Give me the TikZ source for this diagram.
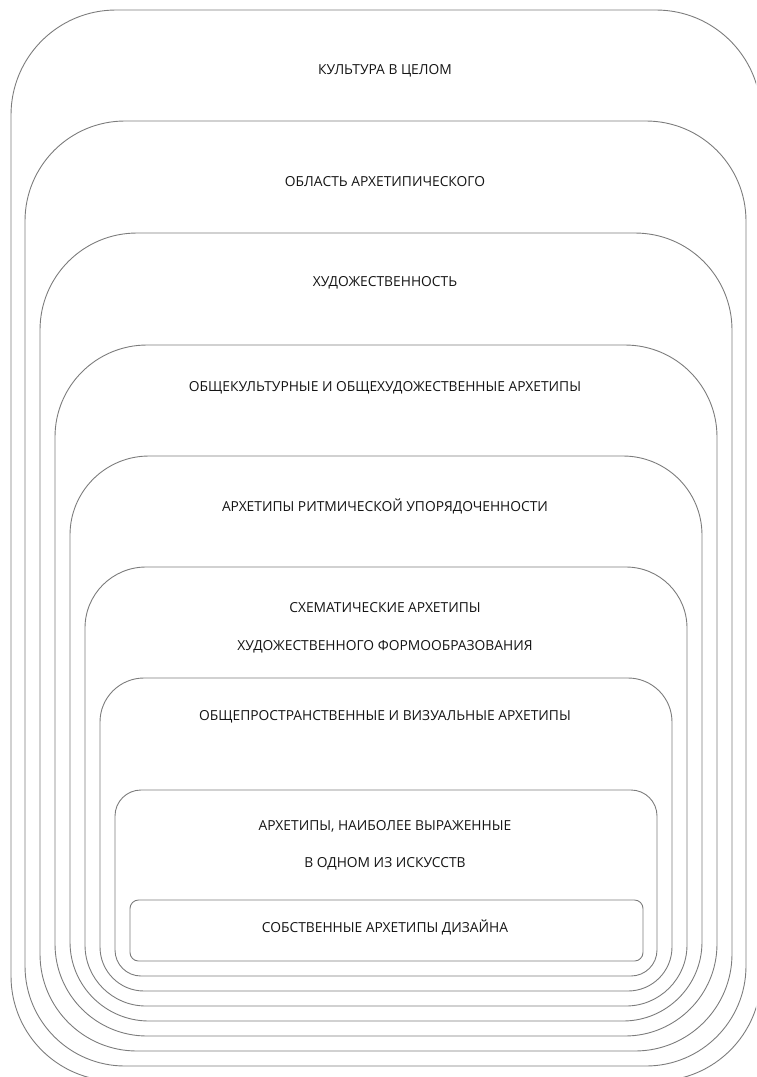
\documentclass[tikz,border=0pt]{standalone}
\usepackage{fontspec}
\setmainfont{Open Sans}
\usepackage{xcolor}
\usepackage{tikz}
\definecolor{frameGray}{HTML}{7C7C7C}
\definecolor{labelInk}{HTML}{141414}

\begin{document}
\begin{tikzpicture}[x=1pt,y=-1pt,
        frame/.style={draw=frameGray, line width=0.9pt},
        lbl/.style={font=\fontsize{13.8}{15}\selectfont, text=labelInk, inner sep=0pt}]
    \useasboundingbox (0,0) rectangle (756,1077);
    \clip (0,0) rectangle (756,1077);
    % nested frames: left/top/right/bottom/radius
    \foreach \l/\t/\r/\b/\rad in {11/10/761/1081/105, 25/121/746/1066/100,
            40/233/732/1051/97, 55/345/717/1036/92, 70/456/702/1021/79,
            85/567/687/1006/61, 100/678/672/991/44, 115/790/657/976/26,
            130/900/643/961/8.5}
        \draw[frame, rounded corners=\rad pt] (\l,\t) rectangle (\r,\b);
    \node[lbl] (culture) at (385,71) {КУЛЬТУРА В ЦЕЛОМ};
    \node[lbl] (archarea) at (385,182) {ОБЛАСТЬ АРХЕТИПИЧЕСКОГО};
    \node[lbl] (artness) at (385,283) {ХУДОЖЕСТВЕННОСТЬ};
    \node[lbl] (general) at (385,388) {ОБЩЕКУЛЬТУРНЫЕ И ОБЩЕХУДОЖЕСТВЕННЫЕ АРХЕТИПЫ};
    \node[lbl] (rhythm) at (385,506) {АРХЕТИПЫ РИТМИЧЕСКОЙ УПОРЯДОЧЕННОСТИ};
    \node[lbl] (schemaA) at (385,608) {СХЕМАТИЧЕСКИЕ АРХЕТИПЫ};
    \node[lbl] (schemaB) at (385,647) {ХУДОЖЕСТВЕННОГО ФОРМООБРАЗОВАНИЯ};
    \node[lbl] (spatial) at (385,717) {ОБЩЕПРОСТРАНСТВЕННЫЕ И ВИЗУАЛЬНЫЕ АРХЕТИПЫ};
    \node[lbl] (oneartA) at (385,826) {АРХЕТИПЫ, НАИБОЛЕЕ ВЫРАЖЕННЫЕ};
    \node[lbl] (oneartB) at (385,864) {В ОДНОМ ИЗ ИСКУССТВ};
    \node[lbl] (design) at (385,927) {СОБСТВЕННЫЕ АРХЕТИПЫ ДИЗАЙНА};
\end{tikzpicture}
\end{document}
